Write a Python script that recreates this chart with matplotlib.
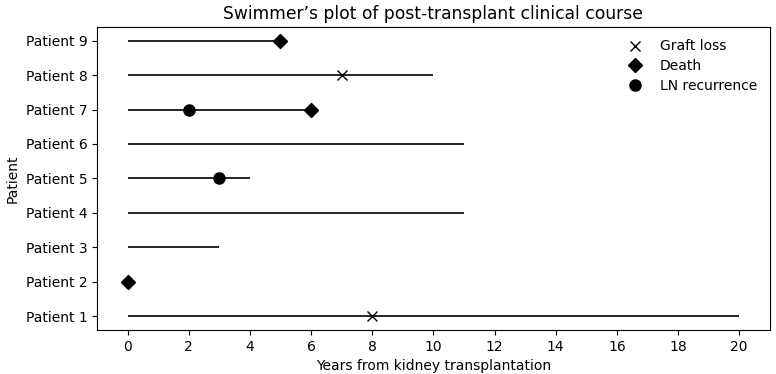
import matplotlib.pyplot as plt

patients = ['Patient 1', 'Patient 2', 'Patient 3', 'Patient 4', 'Patient 5',
            'Patient 6', 'Patient 7', 'Patient 8', 'Patient 9']
follow_up = [20, 0, 3, 11, 4, 11, 6, 10, 5]

# events: (patient index, year)
graft_loss = [(1, 8), (8, 7)]
death = [(2, 0), (7, 6), (9, 5)]
ln_recurrence = [(5, 3), (7, 2)]

fig, ax = plt.subplots(figsize=(7.76, 3.74), dpi=100)

y = list(range(1, len(patients) + 1))
ax.hlines(y, 0, follow_up, color='black', linewidth=1.2)

ax.plot([e[1] for e in graft_loss], [e[0] for e in graft_loss], 'x',
        color='black', markersize=7, label='Graft loss', linestyle='none')
ax.plot([e[1] for e in death], [e[0] for e in death], 'D',
        color='black', markersize=7.5, label='Death', linestyle='none')
ax.plot([e[1] for e in ln_recurrence], [e[0] for e in ln_recurrence], 'o',
        color='black', markersize=8, label='LN recurrence', linestyle='none')

ax.set_yticks(y)
ax.set_yticklabels(patients)
ax.set_xticks(range(0, 21, 2))
ax.set_xlim(-1, 21)
ax.set_xlabel('Years from kidney transplantation')
ax.set_ylabel('Patient')
ax.set_title('Swimmer\u2019s plot of post-transplant clinical course', fontsize=12.3)
ax.legend(loc='upper right', frameon=False, labelspacing=0.4)

plt.subplots_adjust(left=0.125, right=0.992, top=0.928, bottom=0.118)
plt.savefig('out.png')
